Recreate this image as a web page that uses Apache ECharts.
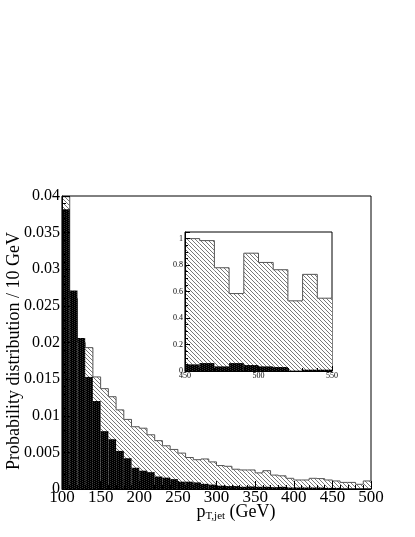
<!DOCTYPE html>
<html><head><meta charset="utf-8">
<script src="https://cdn.jsdelivr.net/npm/echarts@6/dist/echarts.min.js"></script>
<style>html,body{margin:0;padding:0;background:#fff}#c{width:415px;height:537px}</style>
</head><body><div id="c"></div>
<script>
// ---- data ----
const binLow = [100,110,120,130,140,150,160,170,180,190,200,210,220,230,240,250,260,270,280,290,
                300,310,320,330,340,350,360,370,380,390,400,410,420,430,440,450,460,470,480,490];
const binWidth = 10;
const broadDist = [0.0399,0.0260,0.0200,0.0193,0.0153,0.0137,0.0126,0.0108,0.0095,0.0085,
                   0.0083,0.0074,0.0066,0.0059,0.0054,0.0049,0.0043,0.0040,0.0041,0.0037,
                   0.0032,0.0031,0.0027,0.0026,0.0026,0.0022,0.0025,0.0019,0.0018,0.00146,
                   0.00123,0.00123,0.00146,0.00142,0.00123,0.0011,0.0009,0.0009,0.00064,0.0011];
const narrowDist = [0.0382,0.0271,0.0206,0.0153,0.0120,0.0079,0.0068,0.0052,0.0042,0.0029,
                    0.0025,0.0023,0.0017,0.00155,0.00135,0.0010,0.0010,0.0009,0.0007,0.0006,
                    0.00045,0.0004,0.0004,0.0003,0.00035,0.0003,0.0003,0.00025,0.0003,0.0002,
                    0.0002,0.0002,0.0002,0.0002,0.00015,0.00015,0.0001,0.0001,0.0001,0.0001];
const insetBinLow = [450,460,470,480,490,500,510,520,530,540];
const insetBroad = [1.0,0.985,0.78,0.585,0.89,0.82,0.765,0.53,0.73,0.55];
const insetNarrow = [0.05,0.06,0.035,0.06,0.045,0.035,0.03,0.003,0.01,0.01];
const xTitle = 'p';
const xTitleSub = 'T,jet';
const xTitleUnit = ' (GeV)';
const yTitle = 'Probability distribution / 10 GeV';

// ---- patterns ----
function hatchCanvas(){
  const c=document.createElement('canvas');c.width=4;c.height=4;
  const g=c.getContext('2d');g.fillStyle='#fff';g.fillRect(0,0,4,4);
  g.strokeStyle='#555';g.lineWidth=0.8;g.beginPath();g.moveTo(-1,-1);g.lineTo(5,5);g.stroke();
  return c;
}
function dotCanvas(){
  const c=document.createElement('canvas');c.width=4;c.height=2;
  const g=c.getContext('2d');g.fillStyle='#000';g.fillRect(0,0,4,2);
  g.fillStyle='#333';g.fillRect(0,0,1,1);g.fillRect(2,1,1,1);
  return c;
}
const hatch={image:hatchCanvas(),repeat:'repeat'};
const dots={image:dotCanvas(),repeat:'repeat'};

function toItems(lows, vals){
  return lows.map((x,i)=>[x, x+binWidth, vals[i], i>0?vals[i-1]:0]);
}
function histItem(fill, stroke){
  return function(params, api){
    const x0=api.value(0), x1=api.value(1), y=api.value(2), py=api.value(3);
    const tl=api.coord([x0,y]), br=api.coord([x1,0]);
    const ch=[{type:'rect',shape:{x:tl[0],y:tl[1],width:br[0]-tl[0],height:br[1]-tl[1]},style:{fill:fill}}];
    if(stroke){
      const pl=api.coord([x0,py]);
      ch.push({type:'polyline',shape:{points:[[tl[0],pl[1]],[tl[0],tl[1]],[br[0],tl[1]]]},
               style:{stroke:stroke,lineWidth:1,fill:null}});
    }
    return {type:'group',children:ch};
  };
}
const serif='"Liberation Serif","DejaVu Serif",serif';
const fmt3=v=>{ if(Math.abs(v)<1e-12) return '0'; return String(+v.toFixed(4)); };

const chart=echarts.init(document.getElementById('c'),null,{renderer:'canvas'});
chart.setOption({
  animation:false,
  backgroundColor:'#fff',
  grid:[
    {left:62,right:44,top:196,bottom:48,show:true,borderColor:'#000',borderWidth:1,backgroundColor:'transparent'},
    {left:185,right:83,top:232,bottom:166,show:true,borderColor:'#000',borderWidth:1,backgroundColor:'#fff',z:5}
  ],
  xAxis:[
    {type:'value',gridIndex:0,min:100,max:500,interval:50,z:10,
     axisLine:{show:true,lineStyle:{color:'#000',width:1}},
     axisTick:{show:true,inside:true,length:8,lineStyle:{color:'#000'}},
     minorTick:{show:true,splitNumber:5,length:4,lineStyle:{color:'#000'}},
     splitLine:{show:false},
     axisLabel:{color:'#000',fontFamily:serif,fontSize:17,margin:0,hideOverlap:false}},
    {type:'value',gridIndex:1,min:450,max:550,interval:50,z:12,
     axisLine:{show:true,lineStyle:{color:'#000',width:1}},
     axisTick:{show:true,inside:true,length:5,lineStyle:{color:'#000'}},
     minorTick:{show:true,splitNumber:5,length:3,lineStyle:{color:'#000'}},
     splitLine:{show:false},
     axisLabel:{color:'#000',fontFamily:serif,fontSize:8,margin:1}}
  ],
  yAxis:[
    {type:'value',gridIndex:0,min:0,max:0.04,interval:0.005,z:10,
     axisLine:{show:true,lineStyle:{color:'#000',width:1}},
     axisTick:{show:true,inside:true,length:8,lineStyle:{color:'#000'}},
     minorTick:{show:true,splitNumber:5,length:4,lineStyle:{color:'#000'}},
     splitLine:{show:false},
     axisLabel:{color:'#000',fontFamily:serif,fontSize:16,margin:2,formatter:fmt3}},
    {type:'value',gridIndex:1,min:0,max:1.05,interval:0.2,z:12,
     axisLine:{show:true,lineStyle:{color:'#000',width:1}},
     axisTick:{show:true,inside:true,length:5,lineStyle:{color:'#000'}},
     minorTick:{show:true,splitNumber:4,length:3,lineStyle:{color:'#000'}},
     splitLine:{show:false},
     axisLabel:{color:'#000',fontFamily:serif,fontSize:8,margin:2,showMaxLabel:false,
       formatter:v=>{const k=v/0.2;return Math.abs(k-Math.round(k))<1e-6?fmt3(v):'';}}}
  ],
  series:[
    {type:'custom',xAxisIndex:0,yAxisIndex:0,z:2,renderItem:histItem(hatch,'#555'),
     encode:{x:[0,1],y:2},data:toItems(binLow,broadDist)},
    {type:'custom',xAxisIndex:0,yAxisIndex:0,z:3,renderItem:histItem(dots,null),
     encode:{x:[0,1],y:2},data:toItems(binLow,narrowDist)},
    {type:'custom',xAxisIndex:1,yAxisIndex:1,z:6,renderItem:histItem(hatch,'#555'),
     encode:{x:[0,1],y:2},data:toItems(insetBinLow,insetBroad)},
    {type:'custom',xAxisIndex:1,yAxisIndex:1,z:7,renderItem:histItem(dots,null),
     encode:{x:[0,1],y:2},data:toItems(insetBinLow,insetNarrow)}
  ],
  graphic:[
    {type:'text',x:14,y:351,rotation:Math.PI/2,z:20,
     style:{text:yTitle,font:'18px '+serif,fill:'#000',align:'center',verticalAlign:'middle'}},
    {type:'text',x:236,y:512,z:20,
     style:{text:'{p|'+xTitle+'}{s|'+xTitleSub+'}{n|'+xTitleUnit+'}',align:'center',verticalAlign:'middle',
       rich:{p:{font:'18px '+serif,fill:'#000',verticalAlign:'bottom'},
             s:{font:'11px '+serif,fill:'#000',padding:[8,0,0,0],verticalAlign:'bottom'},
             n:{font:'18px '+serif,fill:'#000',verticalAlign:'bottom'}}}}
  ]
});
</script></body></html>
